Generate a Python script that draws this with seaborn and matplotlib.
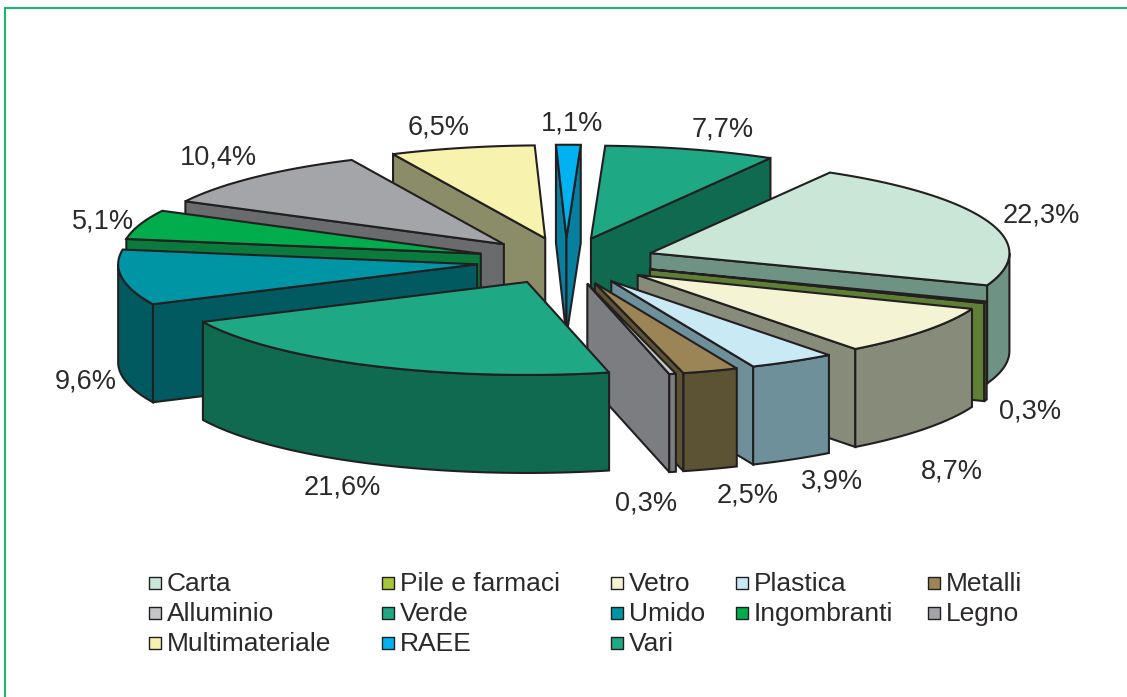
import numpy as np
import pandas as pd
import matplotlib
matplotlib.use("Agg")
import matplotlib.pyplot as plt
from matplotlib.patches import Polygon
import seaborn as sns

# Data
categories = ["Carta", "Pile e farmaci", "Vetro", "Plastica", "Metalli", "Alluminio", "Verde",
              "Umido", "Ingombranti", "Legno", "Multimateriale", "RAEE", "Vari"]
values = [22.3, 0.3, 8.7, 3.9, 2.5, 0.3, 21.6, 9.6, 5.1, 10.4, 6.5, 1.1, 7.7]
top_colors = ["#C9E6D6", "#A6C73C", "#F4F3D4", "#C9E9F5", "#9B8455", "#C4C5C7", "#1EA884",
              "#0095A5", "#00AC4B", "#A4A5A9", "#F7F2AE", "#00B3F0", "#1EA884"]
side_colors = ["#6E9283", "#5F7F36", "#878B7A", "#6D909B", "#5C5334", "#7C7D80", "#0F6A50",
               "#005A60", "#0A7B3C", "#6A6B6D", "#8B8D68", "#0780A0", "#0F6A50"]
label_x = [1041, 1030, 952, 832, 748, 646, 342, 86, 103, 218, 439, 572, 723]
label_y = [214, 410, 470, 481, 494, 503, 487, 381, 220, 157, 127, 123, 128]
legend_col = [0, 1, 2, 3, 4, 0, 1, 2, 3, 4, 0, 1, 2]
legend_row = [0, 0, 0, 0, 0, 1, 1, 1, 1, 1, 2, 2, 2]
col_x = [155, 388, 617, 742, 934]
row_y = [583, 613, 643]

# Pie geometry in pixels
CX, CY = 566, 261
A, B = 359, 93
DEPTH = 98
EXPLODE = 0.25
START = 30
INK = "#231F20"
LW = 1.5

sns.set_theme(style="white")
plt.rcParams["font.family"] = ["Liberation Sans", "DejaVu Sans"]

fig = plt.figure(figsize=(11.27, 6.97), dpi=100)
ax = fig.add_axes([0, 0, 1, 1])


def apex(theta1, theta2):
    mid = np.radians((theta1 + theta2) / 2)
    return CX + EXPLODE * A * np.sin(mid), CY - EXPLODE * B * np.cos(mid)


def lowest_point(i):
    # slices reaching lower on the page are nearer and get painted later
    ox, oy = apex(edges[i], edges[i + 1])
    deg = np.radians(np.linspace(edges[i], edges[i + 1], 80))
    return max(oy, (oy - B * np.cos(deg)).max())


def wall(p, q):
    return [p, q, (q[0], q[1] + DEPTH), (p[0], p[1] + DEPTH)]


def draw_slice(theta1, theta2, top, side):
    ox, oy = apex(theta1, theta2)

    def rim(deg):
        r = np.radians(deg)
        return np.column_stack([ox + A * np.sin(r), oy - B * np.cos(r)])

    arc = rim(np.linspace(theta1, theta2, 80))
    pa, pb = arc[0], arc[-1]
    kw = dict(edgecolor=INK, linewidth=LW, joinstyle="miter", facecolor=side)
    # walls towards the viewer only
    if np.sin(np.radians(theta1)) < 0:
        ax.add_patch(Polygon(wall((ox, oy), pa), **kw))
    if np.sin(np.radians(theta2)) > 0:
        ax.add_patch(Polygon(wall((ox, oy), pb), **kw))
    # outer rim, only the part at the front
    for lo in (90, 450):
        a, b = max(theta1, lo), min(theta2, lo + 180)
        if a < b:
            front = rim(np.linspace(a, b, 60))
            low = front[::-1] + [0, DEPTH]
            ax.add_patch(Polygon(np.vstack([front, low]), **kw))
    ax.add_patch(Polygon(np.vstack([[ox, oy], arc]), closed=True, edgecolor=INK, linewidth=LW,
                         joinstyle="miter", facecolor=top))


edges = START + np.cumsum([0] + values) / sum(values) * 360
for i in sorted(range(len(values)), key=lowest_point):
    draw_slice(edges[i], edges[i + 1], top_colors[i], side_colors[i])

# Percent labels
for x, y, v in zip(label_x, label_y, values):
    ax.text(x, y + 1, f"{v:.1f}%".replace(".", ","), ha="center", va="center", fontsize=19.5, color="#2B2A29")

# Legend swatches and names
legend_df = pd.DataFrame({"name": categories,
                          "x": [col_x[c] for c in legend_col],
                          "y": [row_y[r] for r in legend_row]})
sns.scatterplot(data=legend_df, x="x", y="y", hue="name", palette=dict(zip(categories, top_colors)),
                marker="s", s=80, edgecolor=INK, linewidth=1.0, legend=False, ax=ax, zorder=3)
for _, row in legend_df.iterrows():
    ax.text(row["x"] + 12, row["y"] + 1, row["name"], ha="left", va="center", fontsize=19, color="#2B2A29")

# Green frame, top and left only
ax.plot([5, 5, 1127], [697, 8, 8], color="#00B35A", lw=1.3, solid_joinstyle="miter")

ax.set_xlim(0, 1127)
ax.set_ylim(697, 0)
ax.axis("off")

fig.savefig("out.png", dpi=100)
